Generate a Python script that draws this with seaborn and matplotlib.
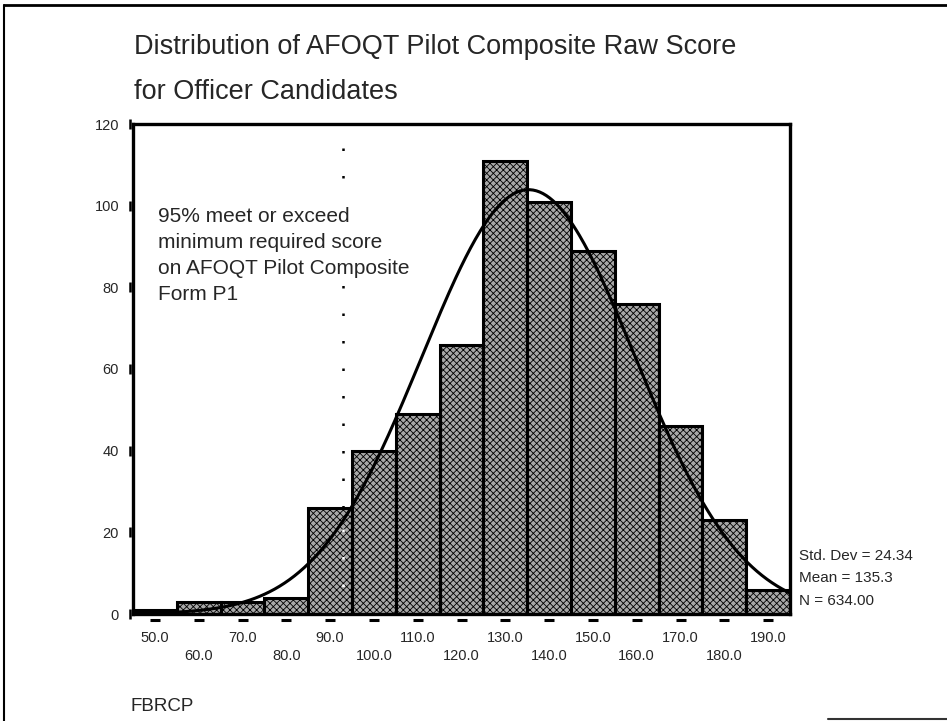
import numpy as np
import pandas as pd
import matplotlib
matplotlib.use("Agg")
import matplotlib.pyplot as plt
import matplotlib.transforms as mtransforms
from matplotlib.lines import Line2D
import seaborn as sns

# Histogram data (bin centres and counts)
bin_centers = [50, 60, 70, 80, 90, 100, 110, 120, 130, 140, 150, 160, 170, 180, 190]
counts = [1, 3, 3, 4, 26, 40, 49, 66, 111, 101, 89, 76, 46, 23, 6]
tick_labels = ["50.0", "60.0", "70.0", "80.0", "90.0", "100.0", "110.0", "120.0",
               "130.0", "140.0", "150.0", "160.0", "170.0", "180.0", "190.0"]
y_ticks = [0, 20, 40, 60, 80, 100, 120]

# Summary statistics shown on the chart
std_dev = 24.34
mean = 135.3
n_total = 634
bin_width = 10
cutoff = 92.9  # minimum required score (dotted line)

note_lines = ["95% meet or exceed", "minimum required score",
              "on AFOQT Pilot Composite", "Form P1"]
stat_lines = ["Std. Dev = 24.34", "Mean = 135.3", "N = 634.00"]

sns.set_style("white")
plt.rcParams['font.family'] = ['Liberation Sans', 'DejaVu Sans']
plt.rcParams['hatch.linewidth'] = 0.6

fig = plt.figure(figsize=(9.47, 7.21), dpi=100)
W, H = 947, 721
ax = fig.add_axes([133 / W, 1 - 614 / H, (790 - 133) / W, (614 - 124) / H])

df = pd.DataFrame({"score": bin_centers, "count": counts})
lo = bin_centers[0] - bin_width / 2
hi = bin_centers[-1] + bin_width / 2
sns.histplot(data=df, x="score", weights="count", binwidth=bin_width, binrange=(lo, hi), ax=ax,
             color="#a8a8a8", edgecolor="black", linewidth=2.2, alpha=1)
for p in ax.patches:
    p.set_hatch("xxxxx")

# normal curve from the reported mean / std / N
xs = np.linspace(lo, hi, 400)
ys = n_total * bin_width / (std_dev * np.sqrt(2 * np.pi)) * np.exp(-0.5 * ((xs - mean) / std_dev) ** 2)
sns.lineplot(x=xs, y=ys, ax=ax, color="black", linewidth=2.2)

# dotted cut-off line: dark above the bar, light over it
cut_bar = counts[int((cutoff - lo) // bin_width)]
ax.plot([cutoff, cutoff], [cut_bar, 115], color="black", linewidth=1.8, linestyle=(0, (1, 10)))
ax.plot([cutoff, cutoff], [0, cut_bar], color="white", linewidth=1.8, linestyle=(0, (1, 10)))

ax.set_xlim(lo, hi)
ax.set_ylim(0, 120)
for s in ax.spines.values():
    s.set_visible(True)
    s.set_linewidth(2.4)
    s.set_color("black")

ax.set_xlabel("")
ax.set_ylabel("")
ax.set_xticks(bin_centers)
ax.set_xticklabels([lab if i % 2 == 0 else "\n" + lab for i, lab in enumerate(tick_labels)],
                   fontsize=10.5, linespacing=1.35)
ax.set_yticks(y_ticks)
ax.set_yticklabels([str(v) for v in y_ticks], fontsize=10.5)
ax.tick_params(axis="x", length=0, pad=12.5)
ax.tick_params(axis="y", length=0, pad=10)

# little dash ticks below x axis and vertical marks left of y axis
tx = mtransforms.blended_transform_factory(ax.transData, ax.transAxes)
ax.plot(bin_centers, [-0.012] * len(bin_centers), linestyle="none", marker="_",
        markersize=7, markeredgewidth=2.2, color="black", transform=tx, clip_on=False)
ty = mtransforms.blended_transform_factory(ax.transAxes, ax.transData)
ax.plot([-0.005] * len(y_ticks), y_ticks, linestyle="none", marker="|",
        markersize=7, markeredgewidth=1.8, color="black", transform=ty, clip_on=False)

# texts
fig.text(134 / W, 1 - 54 / H, "Distribution of AFOQT Pilot Composite Raw Score",
         fontsize=19.5, va="baseline", ha="left")
fig.text(134 / W, 1 - 99 / H, "for Officer Candidates", fontsize=19.5, va="baseline", ha="left")
for i, line in enumerate(note_lines):
    fig.text(158 / W, 1 - (222 + 26 * i) / H, line, fontsize=15, va="baseline", ha="left",
             bbox=dict(facecolor="white", edgecolor="none", pad=3))
for i, line in enumerate(stat_lines):
    fig.text(799 / W, 1 - (560 + 22.5 * i) / H, line, fontsize=11, va="baseline")
fig.text(130 / W, 1 - 711 / H, "FBRCP", fontsize=13.5, va="baseline")

# outer frame of the page
fig.add_artist(Line2D([4 / W, 4 / W], [0, 1 - 5 / H], color="black", linewidth=1.5))
fig.add_artist(Line2D([4 / W, 1], [1 - 5 / H, 1 - 5 / H], color="black", linewidth=2))
fig.add_artist(Line2D([828 / W, 1], [1 - 719 / H, 1 - 719 / H], color="#333333", linewidth=1.5))

fig.savefig("out.png", dpi=100)
